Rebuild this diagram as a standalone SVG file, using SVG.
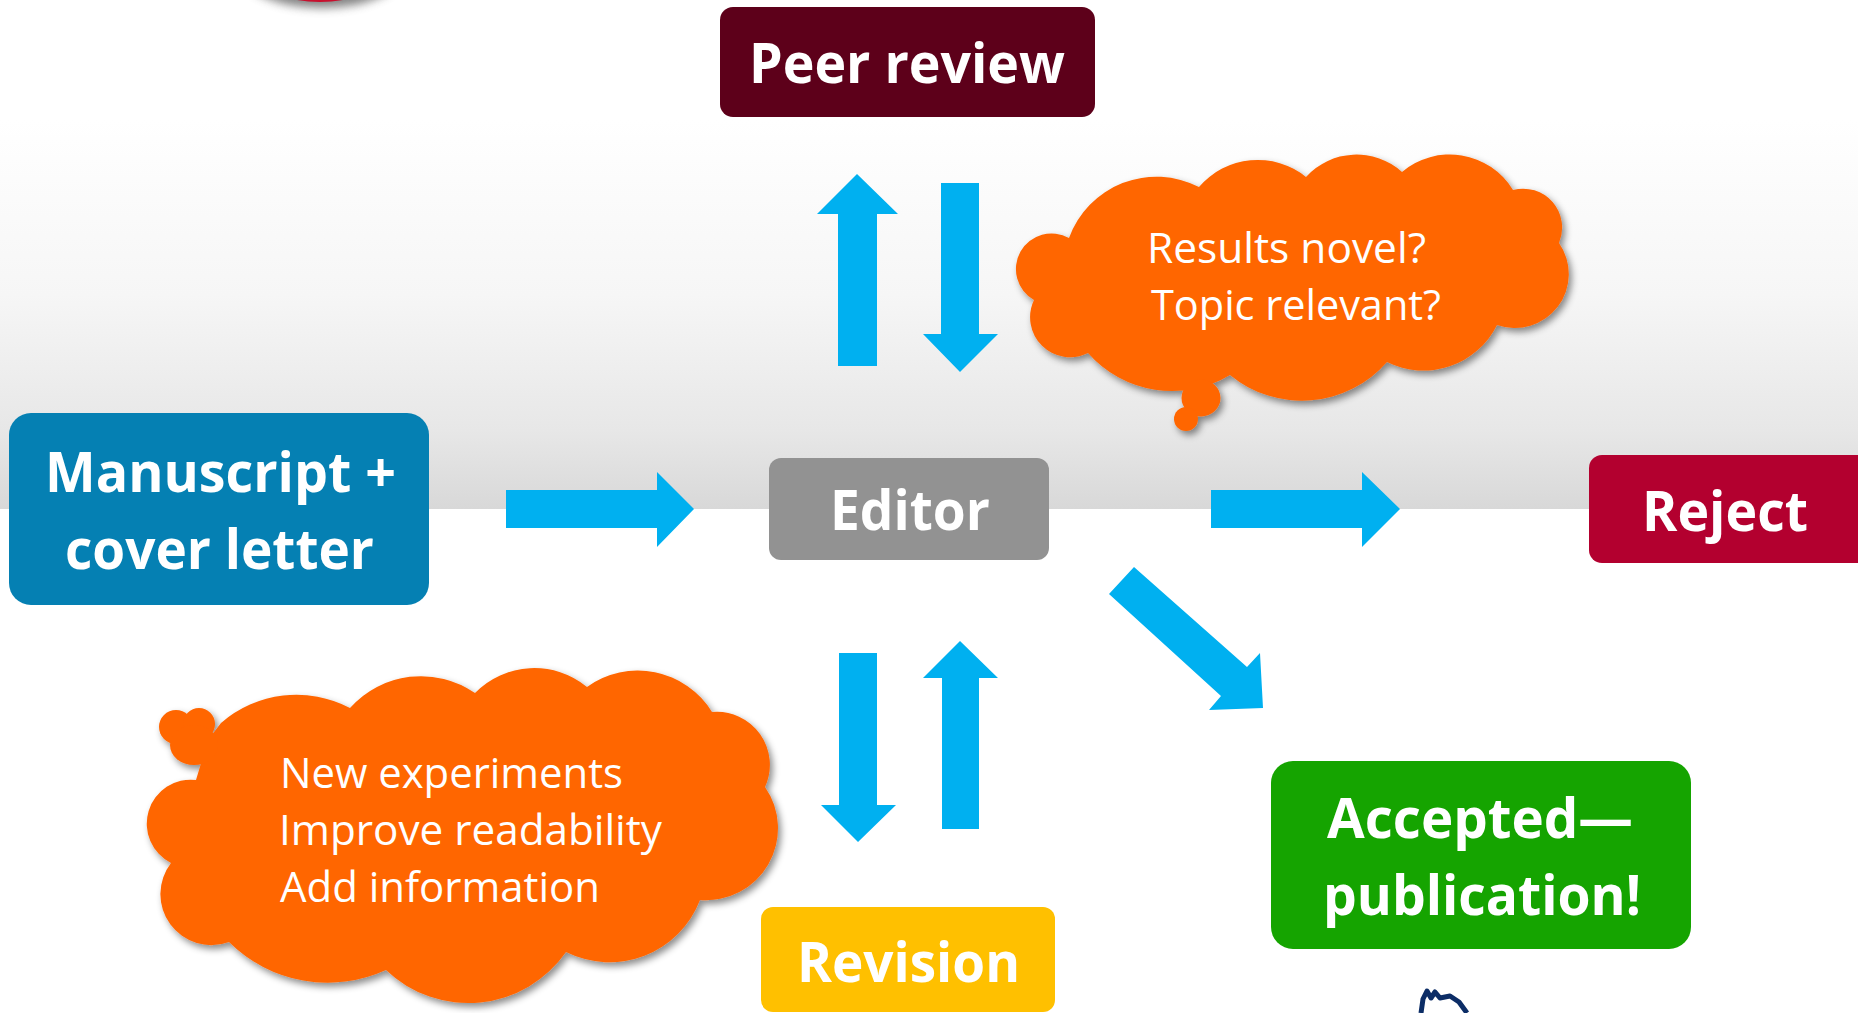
<svg xmlns="http://www.w3.org/2000/svg" width="1858" height="1013" viewBox="0 0 1858 1013">
  <defs>
    <linearGradient id="band" x1="0" y1="120" x2="0" y2="509" gradientUnits="userSpaceOnUse">
      <stop offset="0" stop-color="#ffffff"/>
      <stop offset="0.45" stop-color="#f6f6f6"/>
      <stop offset="0.8" stop-color="#e7e7e7"/>
      <stop offset="1" stop-color="#d8d8d8"/>
    </linearGradient>
    <filter id="cloudShadow" x="-10%" y="-10%" width="125%" height="130%">
      <feDropShadow dx="3" dy="4" stdDeviation="3.5" flood-color="#000" flood-opacity="0.45"/>
    </filter>
    <filter id="soft" x="-50%" y="-50%" width="200%" height="200%">
      <feGaussianBlur stdDeviation="5"/>
    </filter>
    <style>
      .arrow { fill: #00b0f0; }
      .cloud { fill: #ff6600; }
      .box-label { font-family: "Open Sans", "Liberation Sans", sans-serif; font-weight: 700; font-size: 56px; fill: #ffffff; text-anchor: middle; }
      .cloud-label { font-family: "Open Sans", "Liberation Sans", sans-serif; font-weight: 400; font-size: 42px; fill: #ffffff; }
    </style>
  </defs>

  <!-- backdrop: white page with a grey band fading in above the middle row -->
  <rect x="0" y="0" width="1858" height="1013" fill="#ffffff"/>
  <rect x="0" y="0" width="1858" height="509" fill="url(#band)"/>

  <!-- partial shape cut off at the top edge -->
  <g id="top-ornament">
    <ellipse cx="322" cy="-30" rx="82" ry="38" fill="#6e6e6e" opacity="0.85" filter="url(#soft)"/>
    <ellipse cx="320" cy="-40" rx="75" ry="42" fill="#c8102e"/>
  </g>

  <!-- partial logo cut off at the bottom edge -->
  <g id="bottom-logo">
    <path d="M1421,1013 L1423,999 L1427,991 L1431,998 L1435,992 L1440,998 L1450,996 L1459,1002 L1467,1013" fill="none" stroke="#0c2d66" stroke-width="5" stroke-linejoin="round"/>
  </g>

  <!-- connectors -->
  <g id="connectors">
    <!-- manuscript -> editor -->
    <polygon class="arrow" points="506,490 657,490 657,472 694,509 657,547 657,528 506,528"/>
    <!-- editor -> reject -->
    <polygon class="arrow" points="1211,490 1362,490 1362,472 1400,509 1362,547 1362,528 1211,528"/>
    <!-- editor -> peer review (up) -->
    <polygon class="arrow" points="857,174 898,214 877,214 877,366 838,366 838,214 817,214"/>
    <!-- peer review -> editor (down) -->
    <polygon class="arrow" points="941,183 979,183 979,334 998,334 960,372 923,334 941,334"/>
    <!-- editor -> revision (down) -->
    <polygon class="arrow" points="839,653 877,653 877,805 896,805 858,842 821,805 839,805"/>
    <!-- revision -> editor (up) -->
    <polygon class="arrow" points="960,641 998,678 979,678 979,829 942,829 942,678 923,678"/>
    <!-- editor -> accepted (diagonal) -->
    <polygon class="arrow" points="1134,567 1247,667 1260,653 1263,708 1209,710 1221,696 1109,594"/>
  </g>

  <!-- process boxes -->
  <g id="node-peer-review">
    <rect x="720" y="7" width="375" height="110" rx="13" fill="#5d001a"/>
    <text class="box-label" x="907" y="83" textLength="316" lengthAdjust="spacingAndGlyphs">Peer review</text>
  </g>

  <g id="node-manuscript">
    <rect x="9" y="413" width="420" height="192" rx="22" fill="#0580b3"/>
    <text class="box-label" x="220.5" y="492" textLength="351" lengthAdjust="spacingAndGlyphs">Manuscript +</text>
    <text class="box-label" x="219.5" y="569" textLength="309" lengthAdjust="spacingAndGlyphs">cover letter</text>
  </g>

  <g id="node-editor">
    <rect x="769" y="458" width="280" height="102" rx="12" fill="#929292"/>
    <text class="box-label" x="910" y="530" textLength="160" lengthAdjust="spacingAndGlyphs">Editor</text>
  </g>

  <g id="node-reject">
    <rect x="1589" y="455" width="285" height="108" rx="13" fill="#b3002f"/>
    <text class="box-label" x="1725" y="531" textLength="166" lengthAdjust="spacingAndGlyphs">Reject</text>
  </g>

  <g id="node-revision">
    <rect x="761" y="907" width="294" height="105" rx="12" fill="#ffc000"/>
    <text class="box-label" x="908.5" y="982" textLength="223" lengthAdjust="spacingAndGlyphs">Revision</text>
  </g>

  <g id="node-accepted">
    <rect x="1271" y="761" width="420" height="188" rx="22" fill="#15a400"/>
    <text class="box-label" x="1480" y="838" textLength="306" lengthAdjust="spacingAndGlyphs">Accepted—</text>
    <text class="box-label" x="1482" y="915" textLength="318" lengthAdjust="spacingAndGlyphs">publication!</text>
  </g>

  <!-- thought cloud beside the peer review loop -->
  <g id="cloud-review-questions">
    <g filter="url(#cloudShadow)">
      <path class="cloud" d="M1069,238 A93,93 0 0 1 1199,187 A77,77 0 0 1 1306,177 A68,68 0 0 1 1402,172 A74,74 0 0 1 1513,190 A39,39 0 0 1 1559,243 A54,54 0 0 1 1497,325 A82,82 0 0 1 1387,362 A113,113 0 0 1 1230,375 A112,112 0 0 1 1088,353 A40,40 0 0 1 1034,300 A35,35 0 0 1 1069,238 Z"/>
      <ellipse class="cloud" cx="1201" cy="398" rx="19.5" ry="18.5"/>
      <circle class="cloud" cx="1186" cy="419" r="12"/>
    </g>
    <text class="cloud-label" x="1147" y="263" textLength="279" lengthAdjust="spacingAndGlyphs">Results novel?</text>
    <text class="cloud-label" x="1151" y="320" textLength="290" lengthAdjust="spacingAndGlyphs">Topic relevant?</text>
  </g>

  <!-- thought cloud beside the revision loop -->
  <g id="cloud-revision-tasks">
    <g filter="url(#cloudShadow)">
      <path class="cloud" d="M221,723 A115,115 0 0 1 350,708 A95,95 0 0 1 475,693 A83,83 0 0 1 587,687 A87,87 0 0 1 712,712 A53,53 0 0 1 765,787 A72,72 0 0 1 700,900 A97,97 0 0 1 566,952 A119,119 0 0 1 386,970 A140,140 0 0 1 229,942 A51,51 0 0 1 171,863 A44,44 0 0 1 196,780 L208,740 Z"/>
      <circle class="cloud" cx="176" cy="727" r="17"/>
      <circle class="cloud" cx="199" cy="724" r="16"/>
      <ellipse class="cloud" cx="194" cy="745" rx="24" ry="20"/>
    </g>
    <text class="cloud-label" x="280" y="788" textLength="343" lengthAdjust="spacingAndGlyphs">New experiments</text>
    <text class="cloud-label" x="279" y="845" textLength="383" lengthAdjust="spacingAndGlyphs">Improve readability</text>
    <text class="cloud-label" x="280" y="902" textLength="320" lengthAdjust="spacingAndGlyphs">Add information</text>
  </g>
</svg>
